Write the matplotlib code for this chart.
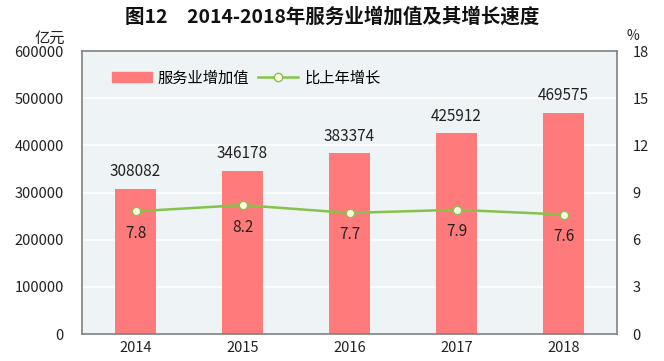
import matplotlib
matplotlib.use("Agg")
import matplotlib.pyplot as plt
from matplotlib.lines import Line2D
from matplotlib.patches import Patch

plt.rcParams['font.family'] = ['Noto Sans CJK SC', 'DejaVu Sans']

years = ['2014', '2015', '2016', '2017', '2018']
value_added = [308082, 346178, 383374, 425912, 469575]
growth = [7.8, 8.2, 7.7, 7.9, 7.6]
left_ticks = [0, 100000, 200000, 300000, 400000, 500000, 600000]
right_ticks = [0, 3, 6, 9, 12, 15, 18]

bar_color = '#FF7A7A'
line_color = '#86C24A'
bg_color = '#EEF3F6'

fig = plt.figure(figsize=(6.64, 3.61), dpi=100)
ax = fig.add_axes([82/664, 1-334/361, 535/664, 283/361])
ax.set_facecolor(bg_color)
x = list(range(len(years)))
ax.bar(x, value_added, width=0.39, color=bar_color, zorder=2)
ax.set_xlim(-0.5, 4.5)
ax.set_ylim(0, 600000)
ax.set_yticks(left_ticks)
ax.set_yticklabels([str(v) for v in left_ticks])
ax.set_xticks(x)
ax.set_xticklabels(years)
ax.grid(axis='y', color='white', linewidth=1.2, zorder=1)
ax.tick_params(length=0, labelsize=10.5, colors='#222222')
ax.tick_params(axis='y', pad=13)
ax.tick_params(axis='x', pad=5)
for s in ax.spines.values():
    s.set_color('#808080')
    s.set_linewidth(1.2)
for xi, v in zip(x, value_added):
    ax.text(xi, v + 36000, str(v), ha='center', va='center', fontsize=11, color='#222222')

ax2 = ax.twinx()
ax2.set_ylim(0, 18)
ax2.set_yticks(right_ticks)
ax2.set_yticklabels([str(v) for v in right_ticks])
ax2.tick_params(length=0, labelsize=10.5, colors='#222222', pad=11)
for s in ax2.spines.values():
    s.set_visible(False)
ax2.plot(x, growth, color=line_color, linewidth=1.8, marker='o', markersize=6,
         markerfacecolor='#FFFCE6', markeredgecolor=line_color, markeredgewidth=1.0, zorder=3)
for xi, g in zip(x, growth):
    ax2.text(xi, g - 1.4, f'{g}', ha='center', va='center', fontsize=11, color='#222222')

handles = [Patch(color=bar_color),
           Line2D([0], [0], color=line_color, linewidth=1.8, marker='o', markersize=6,
                  markerfacecolor='#FFFCE6', markeredgecolor=line_color)]
leg = ax.legend(handles, ['服务业增加值', '比上年增长'], loc='center left',
                bbox_to_anchor=(0.03, 0.905), ncol=2, frameon=False, fontsize=11,
                handlelength=2.6, handleheight=0.7, columnspacing=0.6, handletextpad=0.4)

fig.text(0.5, 1-17/361, '图12　2014-2018年服务业增加值及其增长速度', ha='center', va='center',
         fontsize=14, fontweight='bold', color='#111111')
fig.text(50/664, 1-38/361, '亿元', ha='center', va='center', fontsize=11, color='#222222')
fig.text(633/664, 1-36/361, '%', ha='center', va='center', fontsize=10, color='#222222')

fig.savefig('out.png', dpi=100)
